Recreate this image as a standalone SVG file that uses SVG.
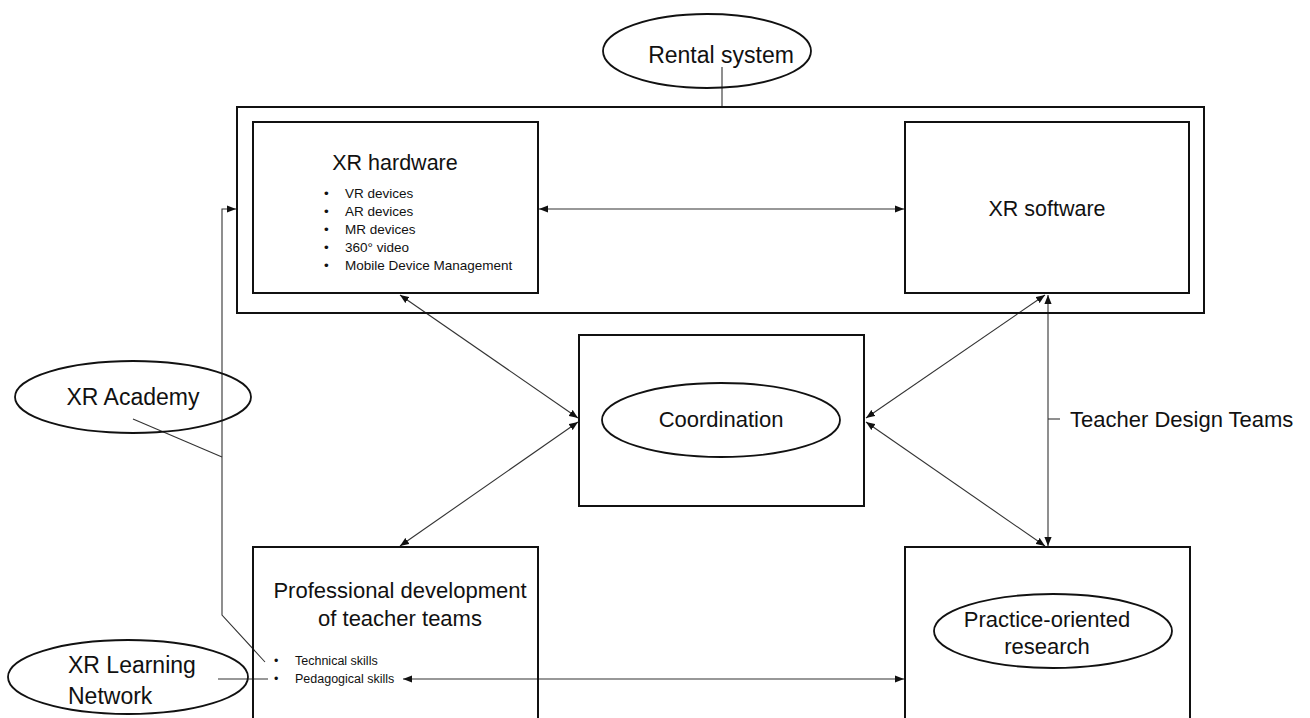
<svg xmlns="http://www.w3.org/2000/svg" width="1310" height="718" viewBox="0 0 1310 718">
<style>
.box{fill:none;stroke:#111;stroke-width:2}
.ell{fill:#fff;stroke:#111;stroke-width:1.8}
.ln{fill:none;stroke:#333;stroke-width:1.1}
.t{font-family:"Liberation Sans",Arial,sans-serif;fill:#111}
.big{font-size:23px}
.mid{font-size:22px}
.sm{font-size:13.5px}
.xs{font-size:12.5px}
</style>
<defs>
<marker id="ah" viewBox="0 0 10 8" refX="10" refY="4" markerWidth="9" markerHeight="8" markerUnits="userSpaceOnUse" orient="auto-start-reverse">
<path d="M0,0 L10,4 L0,8 z" fill="#111"/>
</marker>
</defs>
<rect width="1310" height="718" fill="#fff"/>

<g id="connectors">
<line class="ln" x1="722" y1="67" x2="722" y2="107"/>
<line class="ln" x1="539" y1="209" x2="904" y2="209" marker-start="url(#ah)" marker-end="url(#ah)"/>
<polyline class="ln" points="265,662 222,615 222,209 236,209" marker-end="url(#ah)"/>
<line class="ln" x1="133" y1="419" x2="222" y2="457"/>
<line class="ln" x1="218" y1="679" x2="268" y2="679"/>
<line class="ln" x1="403" y1="679" x2="904" y2="679" marker-start="url(#ah)" marker-end="url(#ah)"/>
<line class="ln" x1="400" y1="295" x2="578" y2="418" marker-start="url(#ah)" marker-end="url(#ah)"/>
<line class="ln" x1="400" y1="546" x2="578" y2="422" marker-start="url(#ah)" marker-end="url(#ah)"/>
<line class="ln" x1="1045" y1="295" x2="866" y2="418" marker-start="url(#ah)" marker-end="url(#ah)"/>
<line class="ln" x1="1045" y1="546" x2="866" y2="422" marker-start="url(#ah)" marker-end="url(#ah)"/>
<line class="ln" x1="1048" y1="295" x2="1048" y2="546" marker-start="url(#ah)" marker-end="url(#ah)"/>
<line class="ln" x1="1048" y1="419" x2="1060" y2="419"/>
</g>

<g id="rental-system">
<ellipse class="ell" cx="707" cy="51" rx="104" ry="37" style="fill:none"/>
<text class="t big" x="721" y="63" text-anchor="middle">Rental system</text>
</g>

<g id="xr-platform">
<rect class="box" x="237" y="107" width="967" height="206"/>
</g>

<g id="xr-hardware">
<rect class="box" x="253" y="122" width="285" height="171"/>
<text class="t mid" x="395" y="170" text-anchor="middle" style="font-size:21.5px">XR hardware</text>
<g class="t sm">
<text x="324" y="198">•</text><text x="345" y="198">VR devices</text>
<text x="324" y="216">•</text><text x="345" y="216">AR devices</text>
<text x="324" y="234">•</text><text x="345" y="234">MR devices</text>
<text x="324" y="252">•</text><text x="345" y="252">360° video</text>
<text x="324" y="270">•</text><text x="345" y="270">Mobile Device Management</text>
</g>
</g>

<g id="xr-software">
<rect class="box" x="905" y="122" width="284" height="171"/>
<text class="t mid" x="1047" y="216" text-anchor="middle" style="font-size:21.5px">XR software</text>
</g>

<g id="coordination">
<rect class="box" x="579" y="335" width="285" height="171"/>
<ellipse class="ell" cx="721" cy="420" rx="119" ry="37"/>
<text class="t mid" x="721" y="427" text-anchor="middle">Coordination</text>
</g>

<g id="teacher-design-teams">
<text class="t mid" x="1070" y="427">Teacher Design Teams</text>
</g>

<g id="xr-academy">
<ellipse class="ell" cx="133" cy="397" rx="118" ry="36" style="fill:none"/>
<text class="t big" x="133" y="405" text-anchor="middle">XR Academy</text>
</g>

<g id="professional-development">
<rect class="box" x="253" y="547" width="285" height="190"/>
<text class="t mid" x="400" y="598" text-anchor="middle">Professional development</text>
<text class="t mid" x="400" y="626" text-anchor="middle">of teacher teams</text>
<g class="t xs">
<text x="274" y="665">•</text><text x="295" y="665">Technical skills</text>
<text x="274" y="683">•</text><text x="295" y="683">Pedagogical skills</text>
</g>
</g>

<g id="xr-learning-network">
<ellipse class="ell" cx="128" cy="677" rx="120" ry="37" style="fill:none"/>
<text class="t big" x="68" y="673">XR Learning</text>
<text class="t big" x="68" y="704">Network</text>
</g>

<g id="practice-oriented-research">
<rect class="box" x="905" y="547" width="285" height="190"/>
<ellipse class="ell" cx="1053" cy="631" rx="119" ry="37"/>
<text class="t mid" x="1047" y="627" text-anchor="middle">Practice-oriented</text>
<text class="t mid" x="1047" y="654" text-anchor="middle">research</text>
</g>
</svg>
